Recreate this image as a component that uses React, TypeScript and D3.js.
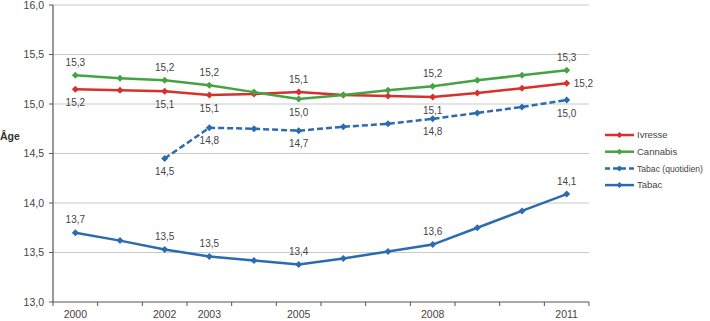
import React from "react";
import * as d3 from "d3";

const years = ["2000","2001","2002","2003","2004","2005","2006","2007","2008","2009","2010","2011"];
const yearLabels = ["2000","","2002","2003","","2005","","","2008","","","2011"];
const ivresse = [15.15,15.14,15.13,15.09,15.10,15.12,15.09,15.08,15.07,15.11,15.16,15.21];
const cannabis = [15.29,15.26,15.24,15.19,15.12,15.05,15.09,15.14,15.18,15.24,15.29,15.34];
const tabacQuotidien: (number|null)[] = [null,null,14.45,14.76,14.75,14.73,14.77,14.80,14.85,14.91,14.97,15.04];
const tabac = [13.70,13.62,13.53,13.46,13.42,13.38,13.44,13.51,13.58,13.75,13.92,14.09];
const yTicks = [13.0,13.5,14.0,14.5,15.0,15.5,16.0];

// labels: [index, text, position]
const ivresseLabels: [number,string,string][] = [[0,"15,2","below"],[2,"15,1","below"],[3,"15,1","below"],[5,"15,1","above"],[8,"15,1","below"],[11,"15,2","right"]];
const cannabisLabels: [number,string,string][] = [[0,"15,3","above"],[2,"15,2","above"],[3,"15,2","above"],[5,"15,0","below"],[8,"15,2","above"],[11,"15,3","above"]];
const tabacQLabels: [number,string,string][] = [[2,"14,5","below"],[3,"14,8","below"],[5,"14,7","below"],[8,"14,8","below"],[11,"15,0","below"]];
const tabacLabels: [number,string,string][] = [[0,"13,7","above"],[2,"13,5","above"],[3,"13,5","above"],[5,"13,4","above"],[8,"13,6","above"],[11,"14,1","above"]];

const RED = "#d9302b";
const GREEN = "#46a343";
const BLUE = "#2b6cb0";
const FONT = "Liberation Sans, Arial, sans-serif";

export default function App() {
  const left = 53, right = 589, top = 5, bottom = 302;
  const x = d3.scaleBand<string>().domain(years).range([left, right]);
  const y = d3.scaleLinear().domain([13, 16]).range([bottom, top]);
  const cx = (i: number) => (x(years[i]) as number) + x.bandwidth() / 2;

  const line = d3.line<number|null>()
    .defined(d => d !== null)
    .x((_, i) => cx(i))
    .y(d => y(d as number));

  const series = [
    { name: "Ivresse", data: ivresse as (number|null)[], color: RED, dash: undefined as string|undefined, labels: ivresseLabels },
    { name: "Cannabis", data: cannabis as (number|null)[], color: GREEN, dash: undefined, labels: cannabisLabels },
    { name: "Tabac (quotidien)", data: tabacQuotidien, color: BLUE, dash: "6,3", labels: tabacQLabels },
    { name: "Tabac", data: tabac as (number|null)[], color: BLUE, dash: undefined, labels: tabacLabels },
  ];

  const diamond = (px: number, py: number, r: number) =>
    `M${px},${py - r}L${px + r},${py}L${px},${py + r}L${px - r},${py}Z`;

  const boundaries = years.map((yr) => x(yr) as number).concat([right]);

  return (
    <svg width={710} height={321} style={{ position: "absolute", left: 0, top: 0, background: "#fff" }} fontFamily={FONT}>
      {yTicks.filter(t => t > 13).map(t => (
        <line key={t} x1={left} x2={right} y1={y(t)} y2={y(t)} stroke="#c9c9c9" strokeWidth={1} />
      ))}
      <line x1={left} x2={left} y1={top} y2={bottom} stroke="#555" strokeWidth={1.2} />
      {yTicks.map(t => (
        <g key={t}>
          <line x1={left - 4} x2={left} y1={y(t)} y2={y(t)} stroke="#555" />
          <text x={44} y={y(t)} dy="0.35em" textAnchor="end" fontSize={10.5} fill="#444">
            {d3.format(".1f")(t).replace(".", ",")}
          </text>
        </g>
      ))}
      <text x={0} y={136} dy="0.35em" fontSize={10.5} fontWeight="bold" fill="#333">Âge</text>
      <line x1={left} x2={right} y1={bottom} y2={bottom} stroke="#555" strokeWidth={1.2} />
      {boundaries.map((b, i) => (
        <line key={i} x1={b} x2={b} y1={bottom} y2={bottom + 4} stroke="#555" />
      ))}
      {yearLabels.map((l, i) => l ? (
        <text key={i} x={cx(i)} y={314} dy="0.35em" textAnchor="middle" fontSize={10.5} fill="#444">{l}</text>
      ) : null)}
      {series.map(s => (
        <g key={s.name}>
          <path d={line(s.data) || ""} fill="none" stroke={s.color} strokeWidth={2.5} strokeDasharray={s.dash} />
          {s.data.map((d, i) => d === null ? null : (
            <path key={i} d={diamond(cx(i), y(d), 3.5)} fill={s.color} />
          ))}
          {s.labels.map(([i, t, pos]) => {
            const d = s.data[i] as number;
            const px = cx(i), py = y(d);
            let tx = px, ty = py, anchor = "middle";
            if (pos === "above") ty = py - 13;
            else if (pos === "below") ty = py + 13;
            else { tx = px + 7; anchor = "start"; }
            return (
              <text key={"l" + i} x={tx} y={ty} dy="0.35em" textAnchor={anchor} fontSize={10} fill="#444">{t}</text>
            );
          })}
        </g>
      ))}
      {series.map((s, k) => {
        const ly = 135 + k * 16.7;
        return (
          <g key={"lg" + k}>
            <line x1={605} x2={634} y1={ly} y2={ly} stroke={s.color} strokeWidth={2.5} strokeDasharray={s.dash ? "5,3" : undefined} />
            <path d={diamond(619.5, ly, 3)} fill={s.color} />
            <text x={637} y={ly} dy="0.35em" fontSize={9.5} fill="#444"
              textLength={s.name.length > 10 ? 66 : undefined} lengthAdjust="spacingAndGlyphs">{s.name}</text>
          </g>
        );
      })}
    </svg>
  );
}
